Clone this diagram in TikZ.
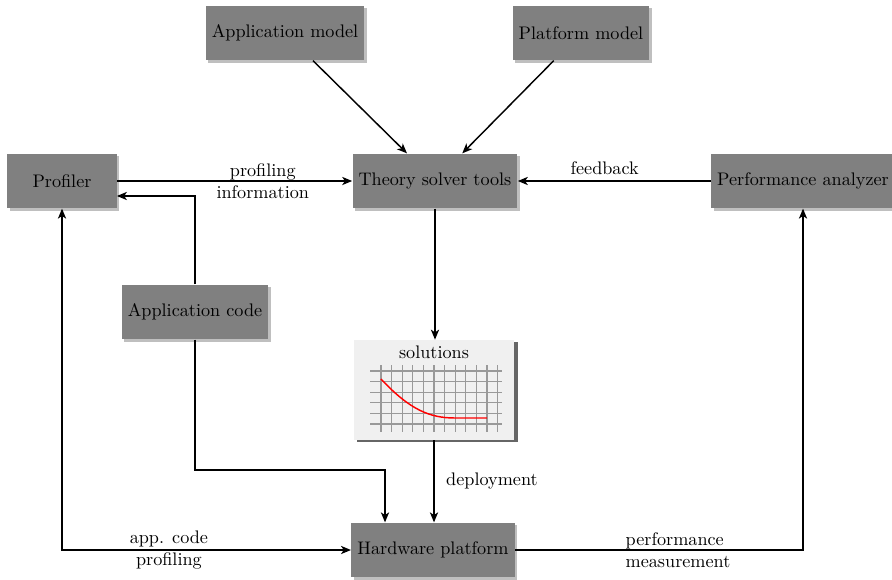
\documentclass[tikz,border=0pt]{standalone}
\usepackage{tikz}
\usetikzlibrary{arrows,arrows.meta,calc,shadows}

\tikzset{
  block/.style={fill=gray, minimum width=60pt, minimum height=30pt,
    drop shadow={shadow xshift=1.5pt, shadow yshift=-1.5pt, fill=black, opacity=0.25}},
  tip/.tip={Stealth[length=5.5pt,width=4.5pt,inset=1.5pt]},
  conn/.style={thick,-tip},
  lbl/.style={align=center, inner sep=1pt}
}

\begin{document}
\begin{tikzpicture}[x=0.55pt,y=-0.55pt]
\useasboundingbox (0,0) rectangle (892,580);
\node[block] (appmodel) at (285,33) {Application model};
\node[block] (platmodel) at (581,33) {Platform model};
\node[block] (solver) at (435,181) {Theory solver tools};
\node[block] (profiler) at (62,181) {Profiler};
\node[block] (analyzer) at (803,181) {Performance analyzer};
\node[block] (appcode) at (195,312) {Application code};
\node[block] (hardware) at (433,550) {Hardware platform};

% solutions chart
\node[fill=gray!12, minimum width=88.5pt, minimum height=55pt,
  drop shadow={shadow xshift=2pt, shadow yshift=-1pt, fill=black, opacity=0.6}] (solutions) at (434,390) {};
\node[below, inner sep=3.5pt] (soltitle) at (solutions.north) {solutions};
\foreach \i in {0,...,5}
  \draw[gray!80, line width=0.6pt] (370,{371+10.6*\i}) -- (502,{371+10.6*\i});
\foreach \i in {0,...,11}
  \draw[gray!80, line width=0.6pt] ({381+10.6*\i},365) -- ({381+10.6*\i},432);
\draw[red, thick] (381,379) .. controls (410,410) and (430,418) .. (455,418) -- (487,418);

% connectors
\draw[conn] (appmodel) -- (solver);
\draw[conn] (platmodel) -- (solver);
\draw[conn] (profiler) -- node[lbl, pos=0.62] {profiling\\information} (solver);
\draw[conn] (analyzer) -- node[above, pos=0.55] {feedback} (solver);
\draw[conn] (appcode.north) |- ($(profiler.east)+(0,15)$);
\draw[conn] (solver.south) -- (solver.south |- solutions.north);
\draw[conn] (solutions.south) -- node[right, xshift=3pt] {deployment} (solutions.south |- hardware.north);
\coordinate (bend) at (385,470);
\draw[conn] (appcode.south) |- (bend) -- (bend |- hardware.north);
\draw[thick, tip-tip] (profiler.south) |- node[lbl, pos=0.685] {app. code\\profiling} (hardware.west);
\draw[conn] (hardware.east) -| node[lbl, align=left, pos=0.283] {performance\\measurement} (analyzer.south);
\end{tikzpicture}
\end{document}
